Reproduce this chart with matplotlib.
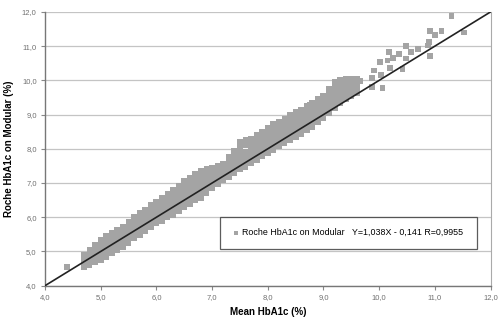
import numpy as np
import matplotlib
matplotlib.use("Agg")
import matplotlib.pyplot as plt
from matplotlib.ticker import FuncFormatter

plt.rcParams['font.family'] = ['Liberation Sans', 'DejaVu Sans']

# dense band: one column of points per Mean HbA1c value
band_x = [4.7, 4.8, 4.9, 5.0, 5.1, 5.2, 5.3, 5.4, 5.5, 5.6, 5.7, 5.8, 5.9, 6.0,
          6.1, 6.2, 6.3, 6.4, 6.5, 6.6, 6.7, 6.8, 6.9, 7.0, 7.1, 7.2, 7.3, 7.4,
          7.5, 7.6, 7.7, 7.8, 7.9, 8.0, 8.1, 8.2, 8.3, 8.4, 8.5, 8.6, 8.7, 8.8,
          8.9, 9.0, 9.1, 9.2, 9.3, 9.4, 9.5, 9.6]
band_y = [
    [4.55, 4.62, 4.69, 4.76, 4.83, 4.90],
    [4.60, 4.69, 4.78, 4.87, 4.96, 5.05],
    [4.68, 4.78, 4.89, 4.99, 5.10, 5.20],
    [4.75, 4.87, 4.98, 5.10, 5.21, 5.33],
    [4.85, 4.97, 5.09, 5.21, 5.33, 5.45],
    [4.95, 5.07, 5.19, 5.31, 5.43, 5.55],
    [5.05, 5.16, 5.28, 5.39, 5.51, 5.62],
    [5.12, 5.24, 5.36, 5.48, 5.60, 5.72],
    [5.25, 5.37, 5.49, 5.61, 5.73, 5.85],
    [5.38, 5.50, 5.63, 5.75, 5.88, 6.00],
    [5.48, 5.61, 5.74, 5.86, 5.99, 6.12],
    [5.60, 5.72, 5.85, 5.97, 6.10, 6.22],
    [5.72, 5.85, 5.97, 6.10, 6.22, 6.35],
    [5.83, 5.96, 6.08, 6.21, 6.33, 6.46],
    [5.90, 6.03, 6.16, 6.29, 6.42, 6.55],
    [6.00, 6.14, 6.27, 6.41, 6.54, 6.68],
    [6.05, 6.20, 6.35, 6.50, 6.65, 6.80],
    [6.18, 6.33, 6.48, 6.62, 6.77, 6.92],
    [6.30, 6.45, 6.60, 6.75, 6.90, 7.05],
    [6.40, 6.55, 6.70, 6.85, 7.00, 7.15],
    [6.50, 6.66, 6.81, 6.97, 7.12, 7.28],
    [6.57, 6.72, 6.88, 7.03, 7.19, 7.34],
    [6.70, 6.84, 6.98, 7.12, 7.26, 7.40],
    [6.85, 6.97, 7.09, 7.21, 7.33, 7.45],
    [6.98, 7.08, 7.19, 7.29, 7.40, 7.50],
    [7.08, 7.17, 7.27, 7.36, 7.46, 7.55],
    [7.18, 7.29, 7.41, 7.52, 7.64, 7.75],
    [7.28, 7.41, 7.55, 7.68, 7.82, 7.95],
    [7.40, 7.56, 7.72, 7.88, 8.04, 8.20],
    [7.48, 7.63, 7.77, 7.91, 8.10, 8.25],
    [7.58, 7.72, 7.87, 8.01, 8.16, 8.30],
    [7.68, 7.82, 7.97, 8.11, 8.26, 8.40],
    [7.78, 7.92, 8.07, 8.21, 8.36, 8.50],
    [7.88, 8.03, 8.18, 8.32, 8.47, 8.62],
    [7.97, 8.12, 8.27, 8.42, 8.57, 8.72],
    [8.08, 8.22, 8.37, 8.51, 8.66, 8.80],
    [8.18, 8.32, 8.46, 8.60, 8.74, 8.88],
    [8.25, 8.40, 8.54, 8.69, 8.83, 8.98],
    [8.35, 8.50, 8.64, 8.79, 8.93, 9.08],
    [8.42, 8.57, 8.71, 8.86, 9.00, 9.15],
    [8.55, 8.69, 8.83, 8.97, 9.11, 9.25],
    [8.65, 8.79, 8.93, 9.07, 9.21, 9.35],
    [8.78, 8.91, 9.05, 9.18, 9.32, 9.45],
    [8.90, 9.03, 9.16, 9.29, 9.42, 9.55],
    [9.05, 9.19, 9.33, 9.47, 9.61, 9.75],
    [9.18, 9.33, 9.49, 9.64, 9.80, 9.95],
    [9.34, 9.48, 9.61, 9.75, 9.88, 10.02],
    [9.45, 9.57, 9.69, 9.81, 9.93, 10.05],
    [9.55, 9.65, 9.75, 9.85, 9.95, 10.05],
    [9.63, 9.71, 9.80, 9.88, 9.97, 10.05],
]

# scattered points outside the band
sparse_x = [4.40, 11.30, 10.92, 11.01, 11.12, 11.52, 10.89, 10.87, 10.70, 10.57,
            10.48, 10.36, 10.18, 10.92, 10.25, 10.01, 10.15, 10.49, 10.42, 9.91,
            10.19, 10.06, 9.87, 10.03, 9.87, 9.66, 9.54, 8.76]
sparse_y = [4.54, 11.88, 11.44, 11.32, 11.44, 11.40, 11.12, 11.02, 10.93, 10.82,
            11.00, 10.78, 10.83, 10.71, 10.66, 10.53, 10.58, 10.64, 10.34, 10.29,
            10.37, 9.78, 9.81, 10.17, 10.07, 9.97, 10.02, 9.29]

line_x = [4.0, 12.0]
line_y = [4.0, 12.0]

label = "Roche HbA1c on Modular   Y=1,038X - 0,141 R=0,9955 "

xs = []
ys = []
for x, col in zip(band_x, band_y):
    for y in col:
        xs.append(x)
        ys.append(y)
xs += sparse_x
ys += sparse_y

fig = plt.figure(figsize=(5.0, 3.23), dpi=100)
ax = fig.add_axes([0.09, 0.1155, 0.891, 0.8475])

ax.scatter(xs, ys, marker='s', s=18, color='#a4a4a4', edgecolors='none',
           zorder=3, label=label)
ax.plot(line_x, line_y, color='#222222', lw=1.2, zorder=4)

ax.set_xlim(4, 12)
ax.set_ylim(4, 12)
ax.set_xticks(np.arange(4, 12.1, 1))
ax.set_yticks(np.arange(4, 12.1, 1))
fmt = FuncFormatter(lambda v, p: f"{v:.1f}".replace('.', ','))
ax.xaxis.set_major_formatter(fmt)
ax.yaxis.set_major_formatter(fmt)
ax.tick_params(labelsize=5.5, labelcolor='#707070', color='#888888',
               length=3, width=0.8, pad=3)
ax.grid(axis='y', color='#c4c4c4', lw=0.9)
ax.set_axisbelow(True)
for side in ['left', 'bottom']:
    ax.spines[side].set_color('#777777')
    ax.spines[side].set_linewidth(1.0)
ax.spines['right'].set_color('#aaaaaa')
ax.spines['top'].set_visible(False)

ax.set_xlabel("Mean HbA1c (%)", fontsize=7, fontweight='bold', labelpad=4)
ax.set_ylabel("Roche HbA1c on Modular (%)", fontsize=7, fontweight='bold',
              labelpad=6)

leg = ax.legend(loc='upper left', bbox_to_anchor=(0.392, 0.252), fontsize=6.4,
                frameon=True, fancybox=False, borderpad=1.3, handletextpad=0.2,
                handlelength=1.0, markerscale=0.7, borderaxespad=0)
leg.get_frame().set_edgecolor('#333333')
leg.get_frame().set_linewidth(0.9)

fig.savefig("out.png", dpi=100, facecolor='white')
